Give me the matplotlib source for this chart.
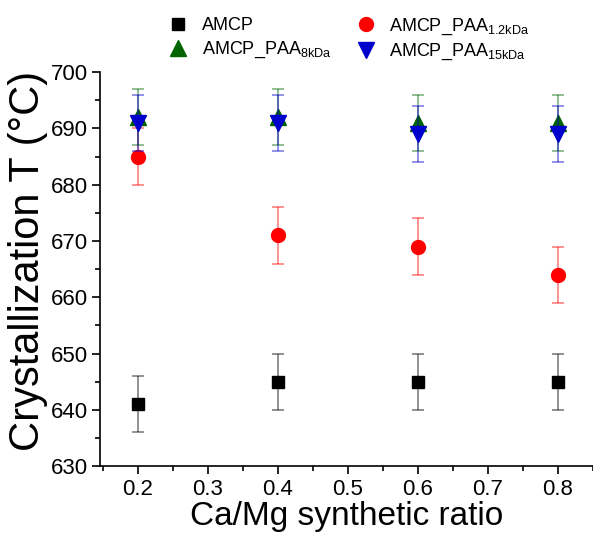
import matplotlib
matplotlib.use("Agg")
import matplotlib.pyplot as plt
from matplotlib.ticker import MultipleLocator

plt.rcParams['font.family'] = ['Liberation Sans', 'DejaVu Sans']
plt.rcParams['mathtext.fontset'] = 'custom'
plt.rcParams['mathtext.rm'] = 'Liberation Sans'

x = [0.2, 0.4, 0.6, 0.8]
amcp = [641, 645, 645, 645]
amcp_err = [5, 5, 5, 5]
paa12 = [685, 671, 669, 664]
paa12_err = [5, 5, 5, 5]
paa8 = [692, 692, 691, 691]
paa8_err = [5, 5, 5, 5]
paa15 = [691, 691, 689, 689]
paa15_err = [5, 5, 5, 5]

fig = plt.figure(figsize=(5.93, 5.34), dpi=100)
ax = fig.add_axes([0.169, 0.127, 0.831, 0.738])

series = [
    (amcp, amcp_err, 's', 'black', 'AMCP', 9),
    (paa12, paa12_err, 'o', 'red', r'AMCP_PAA$_{\mathrm{1.2kDa}}$', 10),
    (paa8, paa8_err, '^', '#006400', r'AMCP_PAA$_{\mathrm{8kDa}}$', 11),
    (paa15, paa15_err, 'v', '#0000CC', r'AMCP_PAA$_{\mathrm{15kDa}}$', 11),
]
handles = []
for y, e, m, c, lab, ms in series:
    ax.errorbar(x, y, yerr=e, fmt='none', ecolor=c, alpha=0.5, elinewidth=1.2,
                capsize=4, capthick=1.2)
    h, = ax.plot(x, y, linestyle='none', marker=m, color=c, markersize=ms,
                 markeredgecolor=c, label=lab)
    handles.append(h)

ax.set_xlim(0.146, 0.85)
ax.set_ylim(630, 700)
ax.xaxis.set_major_locator(MultipleLocator(0.1))
ax.xaxis.set_minor_locator(MultipleLocator(0.05))
ax.yaxis.set_major_locator(MultipleLocator(10))
ax.yaxis.set_minor_locator(MultipleLocator(5))
ax.spines['top'].set_visible(False)
ax.spines['right'].set_visible(False)
for s in ['left', 'bottom']:
    ax.spines[s].set_linewidth(1.2)
ax.tick_params(which='major', direction='out', length=6, width=1.2, labelsize=16, pad=3)
ax.tick_params(which='minor', direction='out', length=3.5, width=1.2)
ax.set_xticklabels([f'{v:.1f}' for v in ax.get_xticks()])
ax.set_xlabel('Ca/Mg synthetic ratio', fontsize=24, labelpad=1)
ax.set_ylabel('Crystallization T (°C)', fontsize=30, labelpad=2)
ax.yaxis.label.set_y(0.52)

order = [handles[0], handles[2], handles[1], handles[3]]
fig.legend(order, [h.get_label() for h in order], ncol=2, loc='upper left',
           bbox_to_anchor=(0.255, 1.0), frameon=False, fontsize=13,
           columnspacing=1.3, handlelength=1.2, handletextpad=0.7, labelspacing=0.3)

fig.savefig('out.png', dpi=100)
